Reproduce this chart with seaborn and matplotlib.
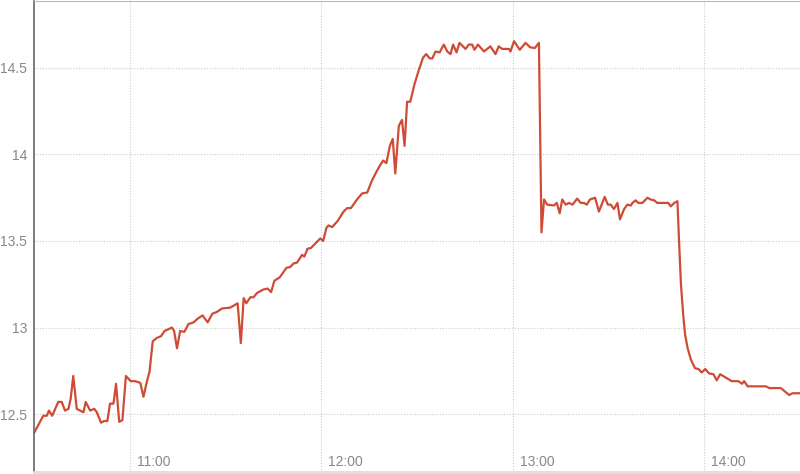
import numpy as np
import pandas as pd
import seaborn as sns
import matplotlib.dates as mdates
import matplotlib.transforms as mtransforms
from matplotlib import pyplot as plt

# minutos desde as 10:30 e valores
minutes = [0.0, 2.9, 4.0, 4.7, 5.7, 7.6, 8.7, 9.7, 10.8, 11.5, 12.3, 13.4, 15.5, 16.2,
           17.6, 18.9, 19.7, 21.0, 22.0, 23.0, 23.8, 24.9, 25.7, 26.7, 27.7, 28.8,
           30.3, 31.7, 33.3, 34.3, 35.4, 36.2, 37.2, 38.5, 39.8, 40.9, 42.1, 43.2,
           43.9, 44.8, 45.8, 47.1, 48.4, 50.0, 51.2, 52.8, 54.4, 55.9, 57.3, 58.9,
           61.5, 63.8, 64.8, 65.7, 66.5, 67.8, 68.8, 69.9, 71.9, 73.2, 74.3, 75.3,
           77.0, 79.1, 80.3, 81.3, 82.4, 84.0, 84.7, 85.7, 86.8, 89.7, 90.6, 91.6,
           92.3, 93.4, 95.1, 97.0, 98.1, 99.3, 101.2, 102.8, 104.4, 105.9, 107.3,
           108.5, 109.4, 110.4, 111.5, 112.4, 113.2, 114.3, 115.3, 116.1, 116.9,
           117.9, 119.2, 120.6, 121.9, 122.9, 124.0, 124.8, 125.8, 127.1, 128.4,
           129.5, 130.5, 131.3, 132.4, 133.3, 135.2, 136.2, 137.3, 138.0, 139.1,
           141.0, 143.0, 144.6, 145.6, 146.7, 148.8, 149.3, 150.4, 152.2, 154.0,
           155.4, 156.9, 158.2, 159.0, 159.8, 160.8, 162.9, 163.8, 164.7, 165.5,
           166.6, 167.6, 168.7, 170.2, 171.3, 172.3, 173.2, 174.2, 175.8, 177.0,
           178.8, 179.8, 180.7, 181.7, 182.8, 183.6, 184.9, 185.9, 187.0, 187.5,
           188.5, 189.3, 190.6, 192.2, 193.2, 194.3, 195.3, 198.7, 199.5, 200.6,
           201.6, 202.1, 202.7, 203.4, 204.0, 204.8, 205.8, 207.1, 208.2, 209.2,
           210.3, 211.5, 212.9, 213.9, 215.0, 216.8, 218.6, 220.7, 221.8, 222.5,
           223.6, 229.3, 230.4, 234.0, 235.6, 236.6, 237.7, 240.0]
values = [12.39, 12.49, 12.49, 12.52, 12.49, 12.57, 12.57, 12.52, 12.53, 12.59, 12.72,
          12.53, 12.51, 12.57, 12.52, 12.53, 12.51, 12.45, 12.46, 12.46, 12.56, 12.56,
          12.675, 12.455, 12.465, 12.72, 12.69, 12.69, 12.68, 12.60, 12.69, 12.745,
          12.92, 12.94, 12.95, 12.98, 12.99, 13.00, 12.98, 12.88, 12.98, 12.975,
          13.02, 13.03, 13.05, 13.07, 13.03, 13.08, 13.09, 13.11, 13.115, 13.14,
          12.91, 13.17, 13.14, 13.175, 13.175, 13.20, 13.22, 13.225, 13.205, 13.27,
          13.29, 13.345, 13.35, 13.37, 13.375, 13.42, 13.41, 13.455, 13.46, 13.515,
          13.50, 13.575, 13.59, 13.58, 13.615, 13.67, 13.69, 13.69, 13.74, 13.775,
          13.78, 13.85, 13.90, 13.94, 13.965, 13.95, 14.05, 14.09, 13.89, 14.165,
          14.20, 14.05, 14.305, 14.305, 14.405, 14.49, 14.56, 14.58, 14.555, 14.555,
          14.595, 14.59, 14.635, 14.595, 14.58, 14.635, 14.59, 14.645, 14.61, 14.635,
          14.635, 14.605, 14.635, 14.595, 14.625, 14.58, 14.625, 14.61, 14.61, 14.595,
          14.655, 14.605, 14.645, 14.62, 14.615, 14.645, 13.55, 13.74, 13.71, 13.705,
          13.72, 13.66, 13.74, 13.71, 13.72, 13.71, 13.745, 13.72, 13.72, 13.71,
          13.74, 13.75, 13.67, 13.755, 13.71, 13.71, 13.685, 13.72, 13.625, 13.685,
          13.71, 13.705, 13.72, 13.735, 13.72, 13.72, 13.75, 13.74, 13.735, 13.72,
          13.72, 13.70, 13.72, 13.73, 13.50, 13.25, 13.075, 12.96, 12.88, 12.815,
          12.765, 12.76, 12.74, 12.76, 12.735, 12.73, 12.695, 12.73, 12.71, 12.69,
          12.69, 12.675, 12.69, 12.66, 12.66, 12.65, 12.65, 12.625, 12.61, 12.62,
          12.62]
y_ticks = [12.5, 13, 13.5, 14, 14.5]
y_labels = ['12.5', '13', '13.5', '14', '14.5']

inicio = pd.Timestamp('2024-01-01 10:30')
df = pd.DataFrame({'hora': inicio + pd.to_timedelta(minutes, unit='min'), 'valor': values})

sns.set_style('white')
plt.rcParams['font.family'] = ['Liberation Sans', 'DejaVu Sans']

fig = plt.figure(figsize=(8, 4.74), dpi=100)
ax = fig.add_axes([34 / 800, 2 / 474, 1 - 34 / 800, 1 - 3 / 474])

sns.lineplot(data=df, x='hora', y='valor', ax=ax, color='#d04b36', linewidth=1.6)

ax.set_xlim(inicio, inicio + pd.Timedelta(hours=4))
ax.set_ylim(12.165, 14.887)
ax.set_yticks(y_ticks)
ax.set_yticklabels(y_labels)
ax.xaxis.set_major_locator(mdates.HourLocator())
ax.xaxis.set_major_formatter(mdates.DateFormatter('%H:%M'))
ax.set_xlabel('')
ax.set_ylabel('')

ax.grid(True, color='#cccccc', linestyle=(0, (1, 1.5)), linewidth=0.8)
ax.tick_params(axis='y', colors='#aaaaaa', labelcolor='#888888', labelsize=10, length=3, width=0.8, pad=2)
ax.tick_params(axis='x', labelcolor='#888888', labelsize=10, length=0, pad=-12.5)
offset = mtransforms.ScaledTranslation(7 / 100, 0, fig.dpi_scale_trans)
for lbl in ax.get_xticklabels():
    lbl.set_horizontalalignment('left')
    lbl.set_transform(lbl.get_transform() + offset)

ax.spines['right'].set_visible(False)
ax.spines['left'].set_color('#666666')
ax.spines['left'].set_linewidth(1.2)
ax.spines['top'].set_color('#bbbbbb')
ax.spines['top'].set_linewidth(0.8)
ax.spines['bottom'].set_color('#dddddd')
ax.spines['bottom'].set_linewidth(2)

fig.savefig('out.png', dpi=100)
